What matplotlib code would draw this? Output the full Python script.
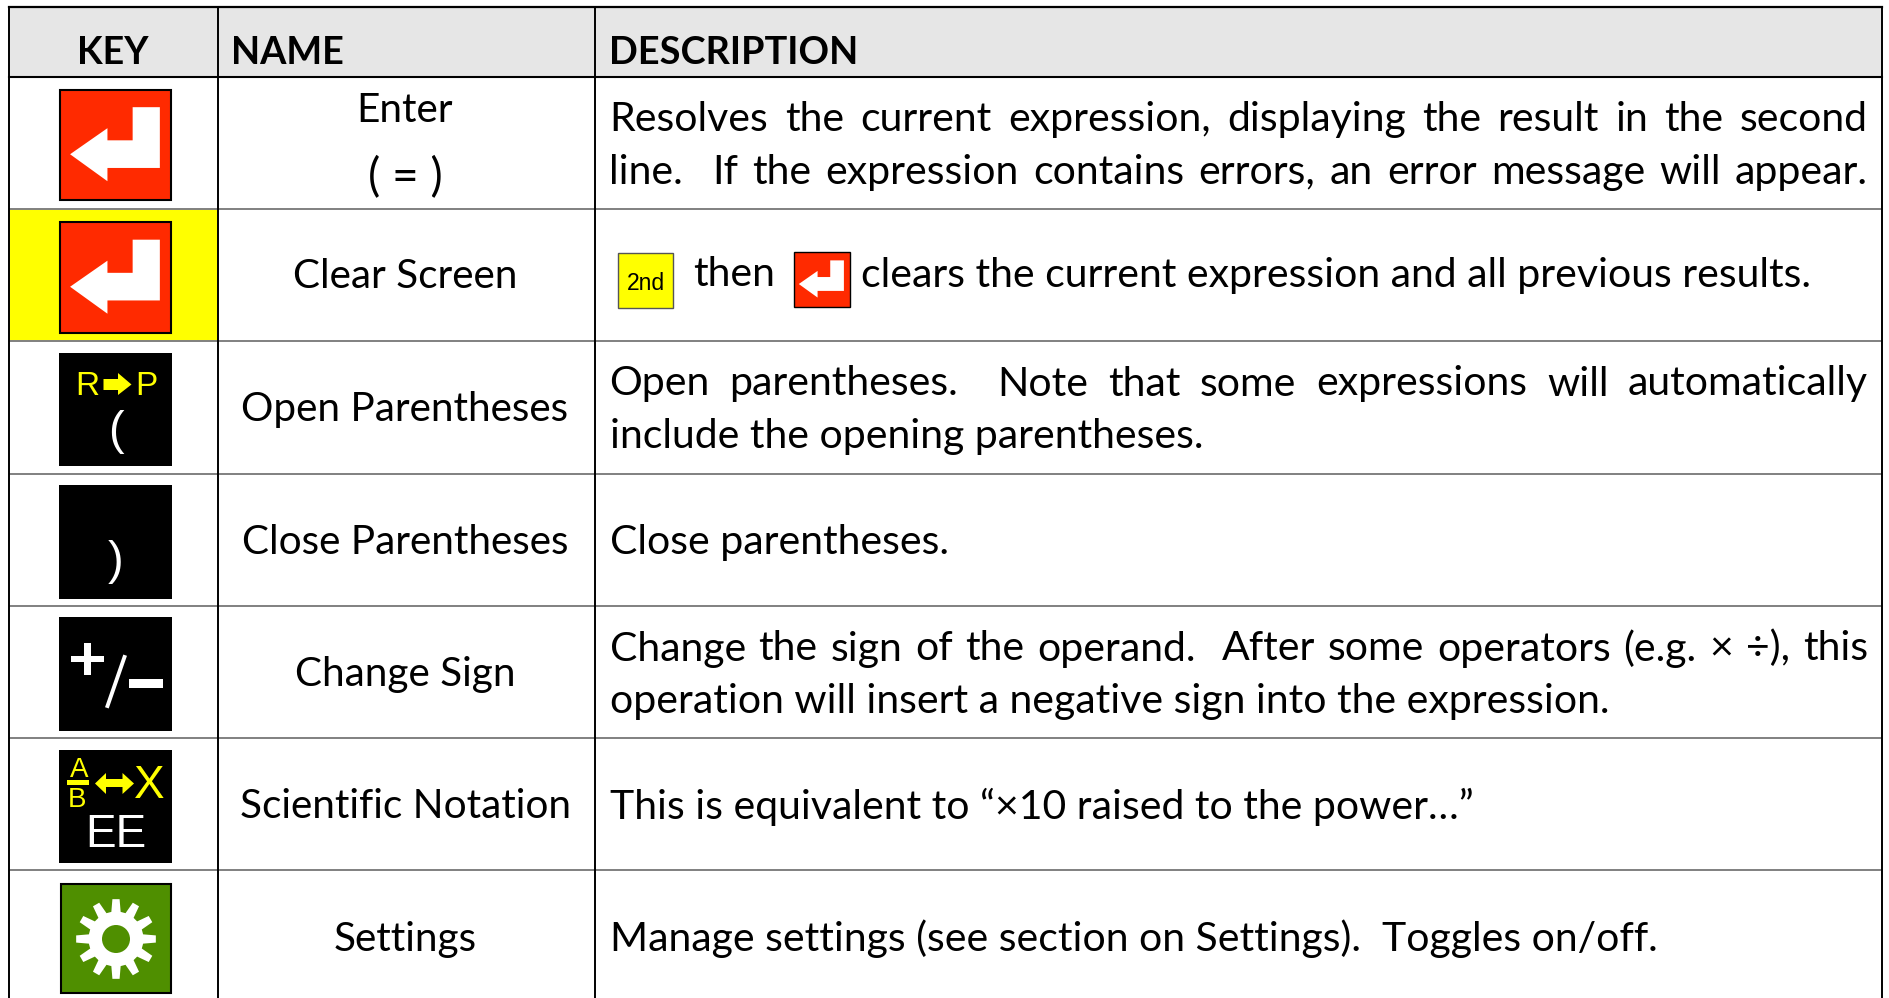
#!/usr/bin/env python
"""Calculator key reference table, drawn on a pixel-sized axes."""

import matplotlib

matplotlib.use("Agg")
import matplotlib.pyplot as plt
import numpy as np
from matplotlib.patches import Circle, Polygon, Rectangle

WIDTH, HEIGHT = 1890, 998

HEADERS = ["KEY", "NAME", "DESCRIPTION"]
NAMES = [
    "Enter",
    "Clear Screen",
    "Open Parentheses",
    "Close Parentheses",
    "Change Sign",
    "Scientific Notation",
    "Settings",
]
# each description line: (text, justified?)
DESCRIPTIONS = [
    [("Resolves the current expression, displaying the result in the second", True),
     ("line.  If the expression contains errors, an error message will appear.", True)],
    [],
    [("Open parentheses.  Note that some expressions will automatically", True),
     ("include the opening parentheses.", False)],
    [("Close parentheses.", False)],
    [("Change the sign of the operand.  After some operators (e.g. × ÷), this", True),
     ("operation will insert a negative sign into the expression.", False)],
    [("This is equivalent to “×10 raised to the power…”", False)],
    [("Manage settings (see section on Settings).  Toggles on/off.", False)],
]

ROW_LINES = [76.5, 208.5, 341, 473.5, 605.5, 737.5, 870]
COL_LINES = [8.5, 217.5, 595, 1882]

FONT = "Lato"
RED = "#ff2a00"
GREEN = "#4f8f00"
YELLOW = "#ffff00"
BODY = 29.5

fig = plt.figure(figsize=(WIDTH / 100, HEIGHT / 100), dpi=100)
ax = fig.add_axes([0, 0, 1, 1])
ax.set_xlim(0, WIDTH)
ax.set_ylim(HEIGHT, 0)
ax.axis("off")


def label(x, y, s, size=BODY, ha="left", color="black", weight="normal", family=FONT):
    return ax.text(x, y, s, fontsize=size, ha=ha, va="baseline", color=color,
                   fontweight=weight, family=family)


def text_width(s, size):
    t = label(0, 0, s, size=size)
    w = t.get_window_extent(fig.canvas.get_renderer()).width
    t.remove()
    return w


def justified(x0, x1, y, s, size):
    # double spaces give an empty word, which just adds one more gap
    words = s.split(" ")
    widths = [text_width(w, size) if w else 0 for w in words]
    gap = (x1 - x0 - sum(widths)) / (len(words) - 1)
    x = x0
    for w, wd in zip(words, widths):
        if w:
            label(x, y, w, size=size)
        x += wd + gap


def key_box(x, y, w, h, face, edge="black", lw=1.5):
    ax.add_patch(Rectangle((x, y), w, h, facecolor=face, edgecolor=edge, linewidth=lw))


def enter_key(x, y, w, h, lw=1.5):
    key_box(x, y, w, h, RED, lw=lw)
    fx = [0.095, 0.43, 0.43, 0.656, 0.656, 0.90, 0.90, 0.43, 0.43]
    fy = [0.586, 0.35, 0.46, 0.46, 0.16, 0.16, 0.71, 0.71, 0.83]
    pts = np.column_stack([x + np.array(fx) * w, y + np.array(fy) * h])
    ax.add_patch(Polygon(pts, closed=True, facecolor="white", edgecolor="none"))


def gear(cx, cy, r_out, r_in, r_hole, face):
    pts = []
    for i in range(12):
        a = 2 * np.pi * i / 12 - np.pi / 2
        for da, r in [(-0.17, r_in), (-0.09, r_out), (0.09, r_out), (0.17, r_in)]:
            pts.append((cx + r * np.cos(a + da), cy + r * np.sin(a + da)))
    ax.add_patch(Polygon(pts, closed=True, facecolor="white", edgecolor="none"))
    ax.add_patch(Circle((cx, cy), r_hole, facecolor=face, edgecolor="none"))


# header and highlight fills
ax.add_patch(Rectangle((COL_LINES[0], 7), COL_LINES[3] - COL_LINES[0], 69.5,
                       facecolor="#e6e6e6", edgecolor="none"))
ax.add_patch(Rectangle((COL_LINES[0], ROW_LINES[1]), COL_LINES[1] - COL_LINES[0],
                       ROW_LINES[2] - ROW_LINES[1], facecolor=YELLOW, edgecolor="none"))

# grid
for y in ROW_LINES[1:]:
    ax.plot([COL_LINES[0], COL_LINES[3]], [y, y], color="#808080", lw=1.4, solid_capstyle="butt")
ax.plot([COL_LINES[0], COL_LINES[3]], [ROW_LINES[0], ROW_LINES[0]], color="black", lw=1.5)
ax.plot([COL_LINES[0], COL_LINES[3]], [7, 7], color="black", lw=1.6)
for x in COL_LINES:
    ax.plot([x, x], [6, HEIGHT], color="black", lw=1.4, solid_capstyle="butt")

# header text
label(113, 64, HEADERS[0], size=27, ha="center", weight="bold")
label(231.5, 64, HEADERS[1], size=27.3, weight="bold")
label(609, 64, HEADERS[2], size=27.3, weight="bold")

# name column
name_base = [122, 288.5, 421.5, 553.5, 686, 818.5, 951]
for s, y in zip(NAMES, name_base):
    label(405, y, s, size=29.2, ha="center")
label(405, 191, "( = )", size=33, ha="center")

# description column
desc_base = [131, 0, 395.5, 554, 660.5, 819, 951]
for lines, y in zip(DESCRIPTIONS, desc_base):
    for i, (s, just) in enumerate(lines):
        yy = y + i * 52.5
        if just:
            justified(609.5, 1868, yy, s, BODY)
        else:
            label(609.5, yy, s)

# inline keys in the clear-screen row
key_box(618, 253, 55, 55, YELLOW, edge="#555555", lw=1)
label(645.5, 290, "2nd", size=16.5, ha="center", family="Liberation Sans")
label(693, 286.5, "then")
enter_key(793.5, 251.5, 56, 55.5, lw=1)
label(861, 286.5, "clears the current expression and all previous results.")

# key column
ARIAL = "Liberation Sans"
enter_key(59.5, 89.5, 111.5, 110.5)
enter_key(59.5, 222, 111.5, 110.5)

key_box(59, 353, 112.5, 113, "black", lw=0)
label(75, 395, "R", size=24, color=YELLOW, family=ARIAL)
label(135, 395, "P", size=24, color=YELLOW, family=ARIAL)
ax.add_patch(Polygon([(103.5, 379), (103.5, 390), (118, 390), (118, 395), (131.5, 384.5),
                      (118, 373), (118, 379)], closed=True, facecolor=YELLOW, edgecolor="none"))
label(116, 444, "(", size=34, ha="center", color="white", family=ARIAL)

key_box(59, 485, 113, 114, "black", lw=0)
label(116, 574, ")", size=34, ha="center", color="white", family=ARIAL)

key_box(59, 617, 113, 114, "black", lw=0)
ax.add_patch(Rectangle((71, 655.5), 32.5, 6, facecolor="white", edgecolor="none"))
ax.add_patch(Rectangle((84, 643), 7, 32, facecolor="white", edgecolor="none"))
ax.plot([124.5, 107.5], [657, 706], color="white", lw=2.8)
ax.add_patch(Rectangle((128.5, 679), 34, 9, facecolor="white", edgecolor="none"))

key_box(59, 750, 113, 113, "black", lw=0)
label(79, 777, "A", size=20, ha="center", color=YELLOW, family=ARIAL)
ax.add_patch(Rectangle((67, 780), 22, 5, facecolor=YELLOW, edgecolor="none"))
label(77, 807, "B", size=20, ha="center", color=YELLOW, family=ARIAL)
ax.add_patch(Polygon([(95, 783.5), (106, 773), (106, 779), (122.5, 779), (122.5, 773), (134, 783.5),
                      (122.5, 794), (122.5, 787), (106, 787), (106, 794)],
                     closed=True, facecolor=YELLOW, edgecolor="none"))
label(149, 798, "X", size=33, ha="center", color=YELLOW, family=ARIAL)
label(115.5, 847, "EE", size=33, ha="center", color="white", family=ARIAL)

key_box(61, 883.5, 110, 109.5, GREEN)
gear(116, 939, 40, 27.5, 14, GREEN)

fig.savefig("out.png", dpi=100)
plt.close(fig)
